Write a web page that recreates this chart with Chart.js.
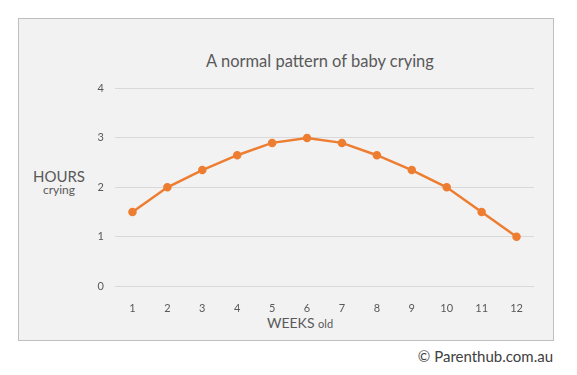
<!DOCTYPE html>
<html>
<head>
<meta charset="utf-8">
<script src="https://cdn.jsdelivr.net/npm/chart.js@4/dist/chart.umd.min.js"></script>
<style>
  body { margin: 0; background: #fff; font-family: Lato, "Open Sans", sans-serif; }
  #page { position: relative; width: 577px; height: 375px; }
  #frame { position: absolute; left: 18px; top: 18px; width: 534px; height: 321px;
           background: #F2F2F2; border: 1px solid #BFBFBF; }
  #chartBox { position: absolute; left: 80px; top: 71px; width: 470px; height: 247px; }
  .txt { position: absolute; color: #595959; white-space: nowrap; }
  #title { left: 0; width: 640px; top: 51px; text-align: center; font-size: 16.5px; }
  #yTitle { left: 30px; top: 170px; width: 58px; text-align: center; line-height: 12px; }
  #xTitle { left: 0; width: 600px; top: 314px; text-align: center; font-size: 14px; }
  #credit { right: 24px; top: 347px; font-size: 15px; color: #404040; }
</style>
</head>
<body>
<div id="page">
  <div id="frame"></div>
  <div class="txt" id="title">A normal pattern of baby crying</div>
  <div class="txt" id="yTitle"><span style="font-size:15px">HOURS</span><br><span style="font-size:12px">crying</span></div>
  <div class="txt" id="xTitle">WEEKS <span style="font-size:11px">old</span></div>
  <div class="txt" id="credit">© Parenthub.com.au</div>
  <div id="chartBox"><canvas id="chart"></canvas></div>
</div>
<script>
var weeks = ["1", "2", "3", "4", "5", "6", "7", "8", "9", "10", "11", "12"];
var hoursCrying = [1.5, 2, 2.35, 2.65, 2.9, 3, 2.9, 2.65, 2.35, 2, 1.5, 1];
var yTicks = [0, 1, 2, 3, 4];

var orange = "#ED7D31";

new Chart(document.getElementById("chart"), {
    type: "line",
    data: {
        labels: weeks,
        datasets: [{
            data: hoursCrying,
            borderColor: orange,
            backgroundColor: orange,
            borderWidth: 2.5,
            pointRadius: 3,
            pointHoverRadius: 3,
            tension: 0
        }]
    },
    options: {
        responsive: true,
        maintainAspectRatio: false,
        animation: false,
        layout: { padding: { top: 3, right: 16, left: 0, bottom: 0 } },
        plugins: { legend: { display: false }, tooltip: { enabled: false } },
        scales: {
            x: {
                offset: true,
                grid: { display: false },
                border: { display: false },
                ticks: { color: "#595959", font: { family: "Lato", size: 11 }, padding: 8, maxRotation: 0 },
                afterFit: function(scale) { scale.height = 32; }
            },
            y: {
                min: yTicks[0],
                max: yTicks[yTicks.length - 1],
                afterBuildTicks: function(scale) {
                    scale.ticks = yTicks.map(function(v) { return { value: v }; });
                },
                grid: { color: "#D9D9D9", lineWidth: 1, drawTicks: false },
                border: { display: false },
                ticks: { color: "#595959", font: { family: "Lato", size: 11 }, padding: 11 },
                afterFit: function(scale) { scale.width = 35; }
            }
        }
    }
});
</script>
</body>
</html>
